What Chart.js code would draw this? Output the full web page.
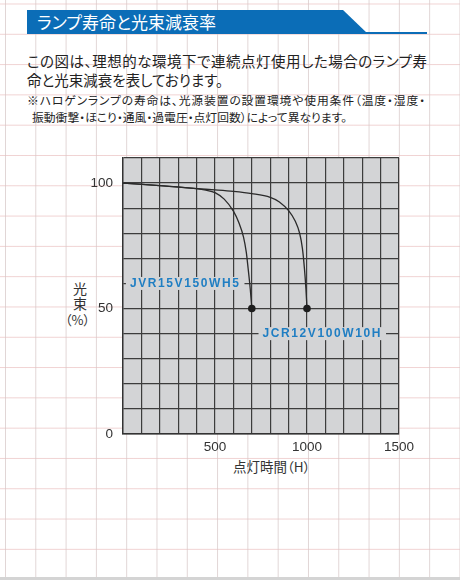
<!DOCTYPE html>
<html><head><meta charset="utf-8">
<script src="https://cdn.jsdelivr.net/npm/chart.js@4"></script>
<style>
html,body{margin:0;padding:0;}
body{width:460px;height:580px;position:relative;overflow:hidden;background-color:#fff;
background-image:linear-gradient(to right, rgba(215,200,200,0.75) 1px, transparent 1px),linear-gradient(to bottom, rgba(235,195,195,0.75) 1px, transparent 1px);
background-size:30.3px 30.3px;background-position:5px 3.5px;font-family:"Noto Sans CJK JP","Noto Sans",sans-serif;}
.t{position:absolute;white-space:nowrap;color:#222;font-family:"Noto Sans CJK JP",sans-serif;font-feature-settings:"palt";line-height:1;}
.j{text-align:justify;text-align-last:justify;white-space:normal;}
#bar{position:absolute;left:27px;top:10px;width:341px;height:24px;background:#0b6db7;clip-path:polygon(0 0,316px 0,341px 100%,0 100%);}
#barline{position:absolute;left:27px;top:32px;width:400px;height:2px;background:#0b6db7;}
#bottom{position:absolute;left:0;top:577px;width:460px;height:3px;background:#d4d4d4;}
canvas{position:absolute;left:0;top:0;}
</style></head>
<body>
<div id="bar"></div><div id="barline"></div><div id="bottom"></div>
<div class="t" style="left:37px;top:13px;font-size:17px;color:#fff;">ランプ寿命と光束減衰率</div>
<div class="t j" style="left:27px;top:54px;width:400px;font-size:14.5px;">この図は、理想的な環境下で連続点灯使用した場合のランプ寿</div>
<div class="t" style="left:27px;top:73px;font-size:14.5px;">命と光束減衰を表しております。</div>
<div class="t j" style="left:27px;top:94px;width:398px;font-size:11.8px;">※ハロゲンランプの寿命は、光源装置の設置環境や使用条件（温度・湿度・</div>
<div class="t" style="left:32px;top:111px;font-size:11.8px;">振動衝撃・ほこり・通風・過電圧・点灯回数）によって異なります。</div>
<div class="t" style="left:73px;top:281px;font-size:14px;color:#333;">光</div>
<div class="t" style="left:73px;top:296px;font-size:14px;color:#333;">束</div>
<div class="t" style="left:65px;top:313px;font-size:13px;color:#333;">（%）</div>
<div class="t" style="left:233px;top:460px;font-size:13.5px;color:#333;">点灯時間（H）</div>
<canvas id="c" width="460" height="580"></canvas>
<script>
const xTicks = [500, 1000, 1500];
const yTicks = [0, 50, 100];
const seriesNames = ['JVR15V150WH5', 'JCR12V100W10H'];
const hours1 = [0, 200, 400, 450, 500, 550, 600, 630, 655, 670, 680, 692, 700];
const flux1  = [100, 99, 97.8, 97.2, 96.2, 93.6, 88.8, 84.2, 78.5, 72.5, 66, 57.5, 50];
const hours2 = [0, 200, 400, 500, 600, 700, 800, 850, 900, 935, 960, 975, 986, 994, 1000];
const flux2  = [100, 99, 97.8, 97.3, 96.7, 95.8, 94.3, 92.5, 89, 85, 80, 74, 66, 58, 50];
const labelAt = [[338, 60], [1083, 40]];

function pts(xs, ys){ return xs.map((x,i)=>({x:x,y:ys[i]})); }
function radii(n){ return Array.from({length:n},(_,i)=> i===n-1 ? 3.8 : 0); }

const bgPlugin = {
  id:'bg',
  beforeDraw(chart){
    const {ctx, chartArea:a} = chart;
    ctx.save(); ctx.fillStyle = '#d3d4d6';
    ctx.fillRect(a.left, a.top, a.right-a.left, a.bottom-a.top);
    ctx.restore();
  },
  afterDatasetsDraw(chart){
    const {ctx, scales:{x, y}} = chart;
    ctx.save();
    ctx.font = 'bold 12px "Liberation Sans", Arial, sans-serif';
    ctx.letterSpacing = '1.6px';
    ctx.textAlign = 'center'; ctx.textBaseline = 'middle';
    seriesNames.forEach((name, i) => {
      const px = x.getPixelForValue(labelAt[i][0]);
      const py = y.getPixelForValue(labelAt[i][1]);
      const w = ctx.measureText(name).width + 8;
      ctx.fillStyle = '#d3d4d6';
      ctx.fillRect(px - w/2, py - 6.5, w, 13);
      ctx.fillStyle = '#1f7ec3';
      ctx.fillText(name, px, py + 0.5);
    });
    ctx.restore();
  }
};

new Chart(document.getElementById('c'), {
  type: 'line',
  data: {
    datasets: [
      {label: seriesNames[0], data: pts(hours1, flux1)},
      {label: seriesNames[1], data: pts(hours2, flux2)}
    ].map(d => Object.assign(d, {
      borderColor:'#2a2a2a', borderWidth:1.3, cubicInterpolationMode:'monotone',
      pointRadius: radii(d.data.length), pointBackgroundColor:'#1e1e1e', pointBorderWidth:0,
      pointHoverRadius:0, fill:false
    }))
  },
  plugins:[bgPlugin],
  options: {
    responsive:false, animation:false, devicePixelRatio:1,
    layout:{padding:{left:0, top:158, right:61, bottom:0}},
    plugins:{legend:{display:false}, tooltip:{enabled:false}},
    scales:{
      x:{type:'linear', min:0, max:1500,
        afterFit(s){ s.height = 146; },
        border:{display:true, color:'#333', width:1.4},
        grid:{color:'#3c3c3c', lineWidth:1.2, drawTicks:false},
        ticks:{stepSize:100, autoSkip:false, maxRotation:0, padding:5, color:'#333',
          font:{family:'"Liberation Sans", Arial, sans-serif', size:13.5},
          callback:v => xTicks.includes(v) ? String(v) : ''}
      },
      y:{type:'linear', min:0, max:110,
        afterFit(s){ s.width = 123; },
        border:{display:true, color:'#333', width:1.4},
        grid:{color:'#3c3c3c', lineWidth:1.2, drawTicks:false},
        ticks:{stepSize:10, autoSkip:false, padding:10, color:'#333',
          font:{family:'"Liberation Sans", Arial, sans-serif', size:13.5},
          callback:v => yTicks.includes(v) ? String(v) : ''}
      }
    }
  }
});
</script>
</body></html>
